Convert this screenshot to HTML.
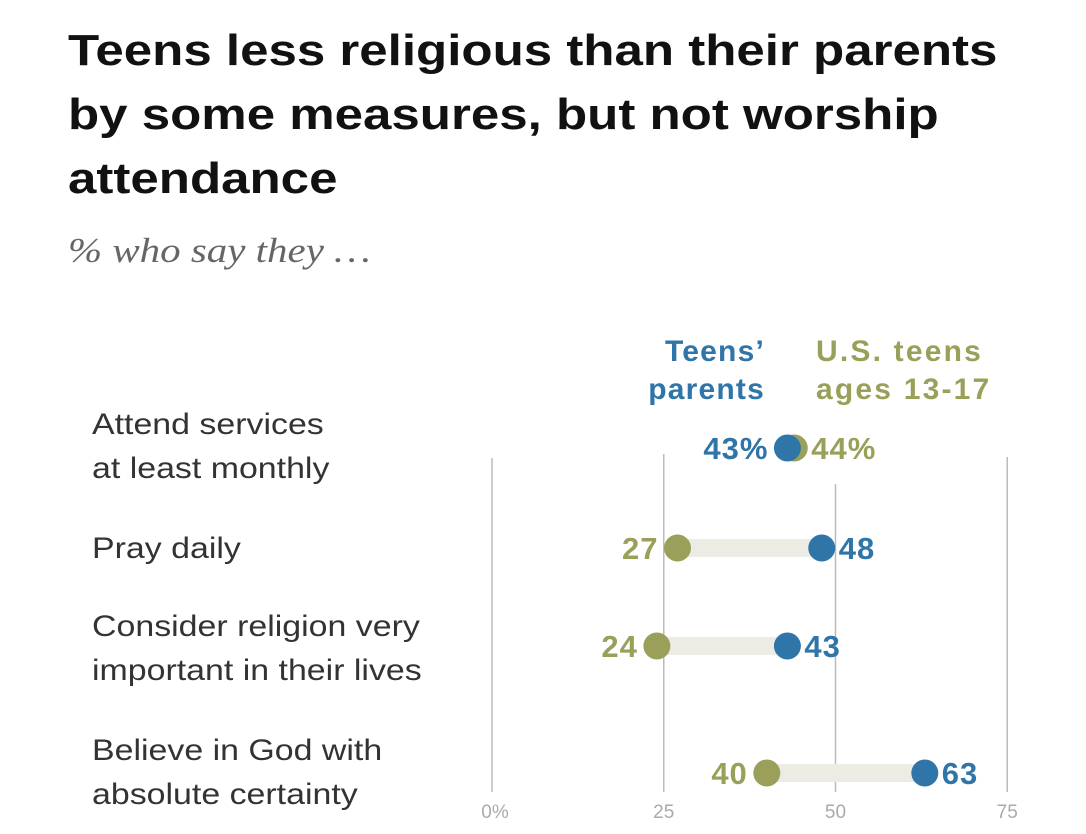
<!DOCTYPE html>
<html><head><meta charset="utf-8"><style>
body{margin:0;background:#fff;width:1086px;height:834px;overflow:hidden;font-family:"Liberation Sans",sans-serif}
.title{position:absolute;left:68px;top:19px;font-size:44px;font-weight:bold;line-height:64px;color:#111;transform:scaleX(1.16);transform-origin:0 0;white-space:nowrap}
.sub{position:absolute;left:68px;top:231px;font-family:"Liberation Serif",serif;font-style:italic;font-size:35px;color:#666;transform:scaleX(1.17);transform-origin:0 0;white-space:nowrap}
.cat{position:absolute;left:92px;font-size:30px;line-height:44px;color:#333;transform:scaleX(1.13);transform-origin:0 0;white-space:nowrap}
</style></head><body>
<div class="title">Teens less religious than their parents<br>by some measures, but not worship<br>attendance</div>
<div class="sub">% who say they …</div>
<div class="cat" style="top:403px">Attend services<br>at least monthly</div>
<div class="cat" style="top:527px">Pray daily</div>
<div class="cat" style="top:605px">Consider religion very<br>important in their lives</div>
<div class="cat" style="top:729px">Believe in God with<br>absolute certainty</div>
<svg id="chart" width="1086" height="834" style="position:absolute;left:0;top:0"></svg>
<script>
const categories=["Attend services at least monthly","Pray daily","Consider religion very important","Believe in God with absolute certainty"];
const parentsValues=[43,48,43,63];
const teensValues=[44,27,24,40];
const tickValues=[0,25,50,75];
const tickLabels=["0%","25","50","75"];
const rowY=[448,548,646,773];
const svg=document.getElementById('chart');
const NS='http://www.w3.org/2000/svg';
const x=v=>492+v*6.87;
const blue='#2f75a8',olive='#9aa059';
function mk(t,a){const e=document.createElementNS(NS,t);for(const k in a)e.setAttribute(k,a[k]);svg.appendChild(e);return e;}
const gridTop=[458,454,484,457];
tickValues.forEach((v,i)=>{
 const l=mk('line',{x1:x(v),x2:x(v),y1:gridTop[i],y2:792,stroke:'#bbb','stroke-width':1.5});
 
 
 const t=mk('text',{x:x(v)+(i==0?3:0),y:818,'text-anchor':'middle','font-size':19,fill:'#aaa','font-family':'Liberation Sans'});
 t.textContent=tickLabels[i];
 
 
});
[['Teens’',361],['parents',399]].forEach(a=>{const t=mk('text',{x:765,y:a[1],'text-anchor':'end','font-size':30,'font-weight':'bold',fill:blue,'font-family':'Liberation Sans','letter-spacing':1.2});t.textContent=a[0];
 
 });
[['U.S. teens',361],['ages 13-17',399]].forEach(a=>{const t=mk('text',{x:816,y:a[1],'text-anchor':'start','font-size':30,'font-weight':'bold',fill:olive,'font-family':'Liberation Sans','letter-spacing':2.2});t.textContent=a[0];
 
 });
categories.forEach((c,i)=>{
 const y=rowY[i],p=parentsValues[i],q=teensValues[i];
 const lo=Math.min(p,q),hi=Math.max(p,q);
 const b=mk('rect',{x:x(lo),y:y-9,width:x(hi)-x(lo),height:18,fill:'#ecebe4'});
 
 
 const first=i==0;
 const d2=mk('circle',{cx:x(q),cy:y,r:13.5,fill:olive});
 
 
 const d1=mk('circle',{cx:x(p),cy:y,r:13.5,fill:blue});
 
 
 const pRight=p>q;
 const lp=mk('text',{x:pRight?x(p)+17:x(p)-19,y:y+11,'text-anchor':pRight?'start':'end','font-size':31,'font-weight':'bold',fill:blue,'font-family':'Liberation Sans','letter-spacing':1});
 lp.textContent=p+(first?'%':'');
 
 
 const lq=mk('text',{x:pRight?x(q)-19:x(q)+17,y:y+11,'text-anchor':pRight?'end':'start','font-size':31,'font-weight':'bold',fill:olive,'font-family':'Liberation Sans','letter-spacing':1});
 lq.textContent=q+(first?'%':'');
 
 
});
</script>
</body></html>
